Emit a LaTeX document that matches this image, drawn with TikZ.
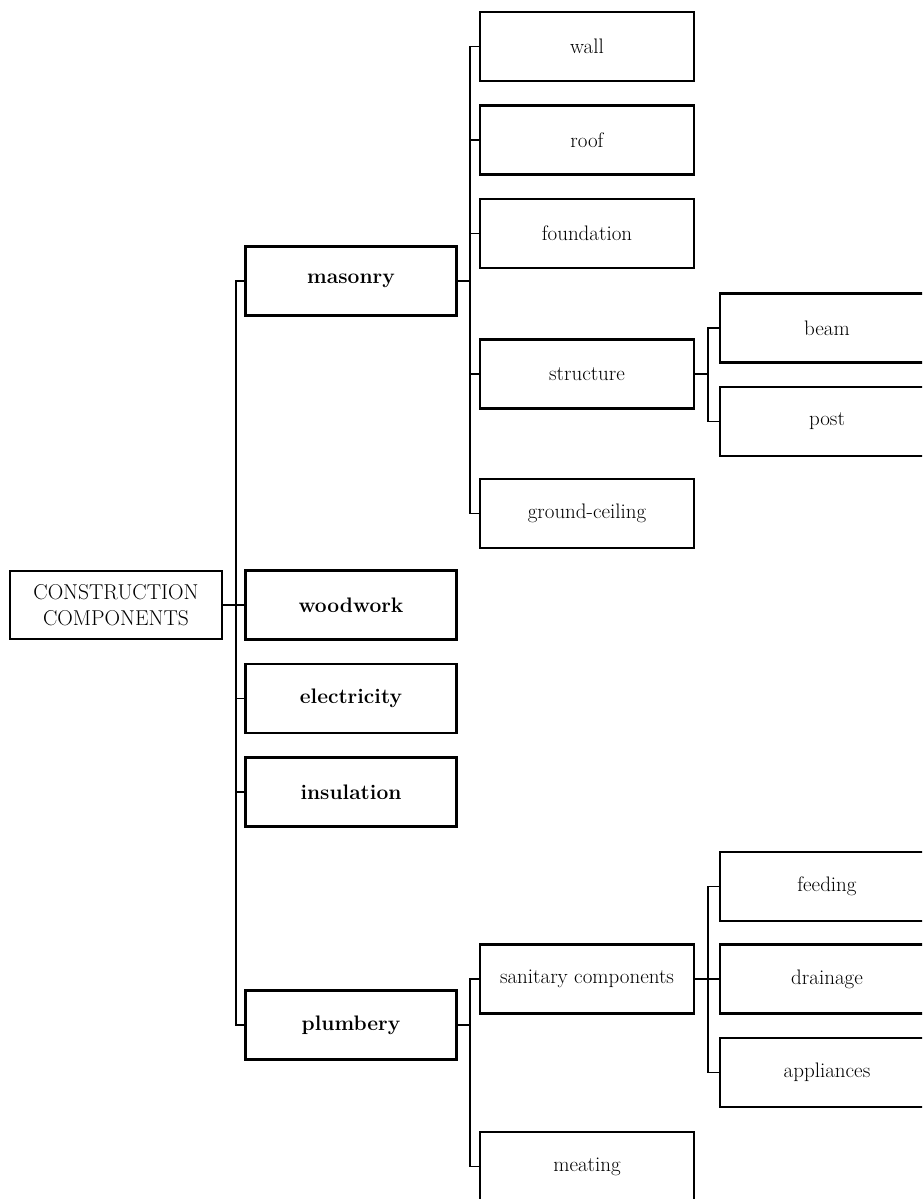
\documentclass[tikz,border=0pt]{standalone}
\usepackage{tikz}
\usetikzlibrary{positioning}

\begin{document}
\begin{tikzpicture}[x=1pt, y=1pt, node distance=93.5pt, on grid,
    comp/.style={draw, line width=2.7pt, inner sep=0pt, minimum width=214pt,
      minimum height=69pt, font=\fontsize{21}{24}\selectfont},
    maincomp/.style={comp, minimum width=211pt, font=\fontsize{21}{24}\selectfont\bfseries},
    rootcomp/.style={comp, minimum width=212pt, minimum height=68pt, align=center,
      font=\fontsize{21.5}{26}\selectfont},
    link/.style={line width=1.8pt, to path={-- ++(12.5pt,0) |- (\tikztotarget)}}]
      \clip (0,0) rectangle (922,-1199);
      \node[rootcomp] (constr) at (116,-605) {CONSTRUCTION\\COMPONENTS};
      \node[maincomp, right=235pt of constr] (woodwork) {woodwork};
      \node[maincomp, below=of woodwork] (electricity) {electricity};
      \node[maincomp, below=of electricity] (insulation) {insulation};
      \node[maincomp, below=233pt of insulation] (plumbery) {plumbery};
      \node[maincomp, above=324pt of woodwork] (masonry) {masonry};
      \node[comp, above right=234.5pt and 236pt of masonry] (wall) {wall};
      \node[comp, below=of wall] (roof) {roof};
      \node[comp, below=of roof] (foundation) {foundation};
      \node[comp, below=140.5pt of foundation] (structure) {structure};
      \node[comp, below=139.5pt of structure] (groundceil) {ground-ceiling};
      \node[comp, above right=46pt and 240pt of structure] (beam) {beam};
      \node[comp, below=of beam] (post) {post};
      \node[comp, above right=46pt and 236pt of plumbery] (sanitary) {sanitary components};
      \node[comp, below=187.5pt of sanitary] (meating) {meating};
      \node[comp, above right=92.5pt and 240pt of sanitary] (feeding) {feeding};
      \node[comp, right=240pt of sanitary] (drainage) {drainage};
      \node[comp, below=of drainage] (appliances) {appliances};
      \path (constr.east) edge[link] (masonry.west)
            (constr.east) edge[link] (woodwork.west)
            (constr.east) edge[link] (electricity.west)
            (constr.east) edge[link] (insulation.west)
            (constr.east) edge[link] (plumbery.west)
            (masonry.east) edge[link] (wall.west)
            (masonry.east) edge[link] (roof.west)
            (masonry.east) edge[link] (foundation.west)
            (masonry.east) edge[link] (structure.west)
            (masonry.east) edge[link] (groundceil.west)
            (structure.east) edge[link] (beam.west)
            (structure.east) edge[link] (post.west)
            (plumbery.east) edge[link] (sanitary.west)
            (plumbery.east) edge[link] (meating.west)
            (sanitary.east) edge[link] (feeding.west)
            (sanitary.east) edge[link] (drainage.west)
            (sanitary.east) edge[link] (appliances.west);
\end{tikzpicture}
\end{document}
